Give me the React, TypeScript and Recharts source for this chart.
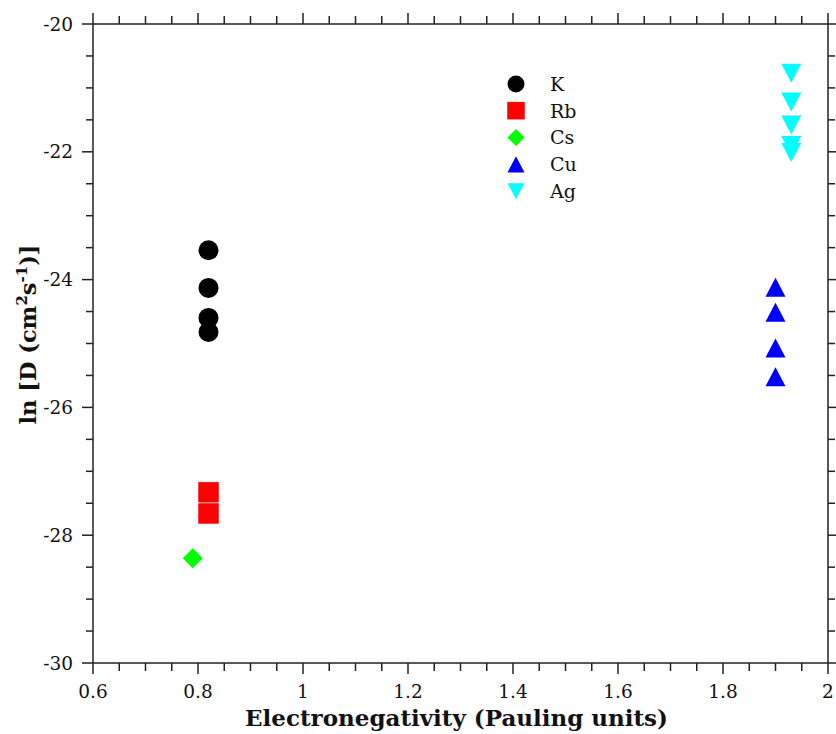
import { ScatterChart, Scatter, XAxis, YAxis, Legend } from 'recharts'

const kX = [0.82, 0.82, 0.82, 0.82]
const kY = [-23.54, -24.13, -24.6, -24.82]
const rbX = [0.82, 0.82]
const rbY = [-27.33, -27.66]
const csX = [0.79]
const csY = [-28.36]
const cuX = [1.9, 1.9, 1.9, 1.9]
const cuY = [-24.12, -24.51, -25.07, -25.52]
const agX = [1.93, 1.93, 1.93, 1.93, 1.93]
const agY = [-20.77, -21.22, -21.58, -21.9, -22.01]

const xMajor = [0.6, 0.8, 1, 1.2, 1.4, 1.6, 1.8, 2]
const xMinor = [
  0.65, 0.7, 0.75, 0.85, 0.9, 0.95, 1.05, 1.1, 1.15, 1.25, 1.3, 1.35,
  1.45, 1.5, 1.55, 1.65, 1.7, 1.75, 1.85, 1.9, 1.95,
]
const yMajor = [-30, -28, -26, -24, -22, -20]
const yMinor = [
  -29.5, -29, -28.5, -27.5, -27, -26.5, -25.5, -25, -24.5, -23.5, -23, -22.5,
  -21.5, -21, -20.5,
]

const FONT = '"DejaVu Serif", serif'
const AXIS = '#222222'

const toPts = (xs: number[], ys: number[]) => ys.map((y, i) => ({ x: xs[i], y }))

const series = [
  { name: 'K', color: '#000000', shape: 'circle', data: toPts(kX, kY) },
  { name: 'Rb', color: '#ff0000', shape: 'square', data: toPts(rbX, rbY) },
  { name: 'Cs', color: '#00ff00', shape: 'diamond', data: toPts(csX, csY) },
  { name: 'Cu', color: '#0000ff', shape: 'up', data: toPts(cuX, cuY) },
  { name: 'Ag', color: '#00ffff', shape: 'down', data: toPts(agX, agY) },
]

function Marker({ kind, cx, cy, r, color }: { kind: string; cx: number; cy: number; r: number; color: string }) {
  if (kind === 'circle') return <circle cx={cx} cy={cy} r={r} fill={color} />
  if (kind === 'square') return <rect x={cx - r} y={cy - r} width={2 * r} height={2 * r} fill={color} stroke="#ffffff" strokeWidth={0.5} />
  if (kind === 'diamond') {
    return <polygon points={`${cx},${cy - r} ${cx + r},${cy} ${cx},${cy + r} ${cx - r},${cy}`} fill={color} />
  }
  const h = r * 0.95
  if (kind === 'up') {
    return <polygon points={`${cx},${cy - h} ${cx + r},${cy + h} ${cx - r},${cy + h}`} fill={color} />
  }
  return <polygon points={`${cx - r},${cy - h} ${cx + r},${cy - h} ${cx},${cy + h}`} fill={color} />
}

const isXMajor = (v: number) => xMajor.some(m => Math.abs(m - v) < 1e-6)
const isYMajor = (v: number) => yMajor.some(m => Math.abs(m - v) < 1e-6)

function BottomTick(props: any) {
  const { x, y, payload } = props
  const major = isXMajor(payload.value)
  return (
    <g>
      <line x1={x} y1={y} x2={x} y2={y + (major ? 11 : 8)} stroke={AXIS} strokeWidth={1.5} />
      {major && (
        <text x={x} y={y + 35} textAnchor="middle" fontFamily={FONT} fontSize={18.5} fill="#111">
          {String(payload.value)}
        </text>
      )}
    </g>
  )
}

function TopTick(props: any) {
  const { x, y, payload } = props
  const major = isXMajor(payload.value)
  return <line x1={x} y1={y} x2={x} y2={y - (major ? 11 : 8)} stroke={AXIS} strokeWidth={1.5} />
}

function LeftTick(props: any) {
  const { x, y, payload } = props
  const major = isYMajor(payload.value)
  return (
    <g>
      <line x1={x} y1={y} x2={x - (major ? 11 : 7)} y2={y} stroke={AXIS} strokeWidth={1.5} />
      {major && (
        <text x={x - 20} y={y} dy="0.36em" textAnchor="end" fontFamily={FONT} fontSize={18.5} fill="#111">
          {String(payload.value)}
        </text>
      )}
    </g>
  )
}

function RightTick(props: any) {
  const { x, y, payload } = props
  const major = isYMajor(payload.value)
  return <line x1={x} y1={y} x2={x + (major ? 11 : 7)} y2={y} stroke={AXIS} strokeWidth={1.5} />
}

function LegendBox() {
  return (
    <svg width={130} height={150}>
      {series.map((s, i) => (
        <g key={s.name}>
          <Marker kind={s.shape} cx={16} cy={14 + i * 26.8} r={s.shape === 'square' ? 9 : 8.5} color={s.color} />
          <text x={50} y={14 + i * 26.8} dy="0.36em" fontFamily={FONT} fontSize={19} fill="#111">
            {s.name}
          </text>
        </g>
      ))}
    </svg>
  )
}

export default function App() {
  return (
    <div style={{ position: 'absolute', left: 0, top: 0, width: 836, height: 734, background: '#fff' }}>
      <ScatterChart width={836} height={734} margin={{ top: 0, right: 0, bottom: 0, left: 0 }}>
        <XAxis
          xAxisId="b"
          type="number"
          dataKey="x"
          orientation="bottom"
          domain={[0.6, 2]}
          allowDataOverflow
          ticks={[...xMajor, ...xMinor]}
          interval={0}
          height={71}
          tickSize={0}
          tickMargin={0}
          tickLine={false}
          axisLine={{ stroke: AXIS, strokeWidth: 1.5 }}
          tick={<BottomTick />}
          label={({ viewBox }: any) => (
            <text
              x={viewBox.x + viewBox.width / 2 - 4}
              y={726}
              textAnchor="middle"
              fontFamily={FONT}
              fontSize={23}
              fontWeight="bold"
              fill="#111"
            >
              Electronegativity (Pauling units)
            </text>
          )}
        />
        <XAxis
          xAxisId="t"
          type="number"
          dataKey="x"
          orientation="top"
          domain={[0.6, 2]}
          allowDataOverflow
          ticks={[...xMajor, ...xMinor]}
          interval={0}
          height={24}
          tickSize={0}
          tickMargin={0}
          tickLine={false}
          axisLine={{ stroke: AXIS, strokeWidth: 1.5 }}
          tick={<TopTick />}
        />
        <YAxis
          yAxisId="l"
          type="number"
          dataKey="y"
          orientation="left"
          domain={[-30, -20]}
          allowDataOverflow
          ticks={[...yMajor, ...yMinor]}
          interval={0}
          width={93}
          tickSize={0}
          tickMargin={0}
          tickLine={false}
          axisLine={{ stroke: AXIS, strokeWidth: 1.5 }}
          tick={<LeftTick />}
          label={({ viewBox }: any) => {
            const cx = 28
            const cy = viewBox.y + viewBox.height / 2 - 9
            return (
              <text
                x={cx}
                y={cy}
                transform={`rotate(-90 ${cx} ${cy})`}
                textAnchor="middle"
                fontFamily={FONT}
                fontSize={22.5}
                fontWeight="bold"
                fill="#111"
                dy="0.36em"
              >
                <tspan>ln [D (cm</tspan>
                <tspan fontSize={15} dy={-9}>2</tspan>
                <tspan dy={9}>s</tspan>
                <tspan fontSize={15} dy={-9}>-1</tspan>
                <tspan dy={9}>)]</tspan>
              </text>
            )
          }}
        />
        <YAxis
          yAxisId="r"
          type="number"
          dataKey="y"
          orientation="right"
          domain={[-30, -20]}
          allowDataOverflow
          ticks={[...yMajor, ...yMinor]}
          interval={0}
          width={8}
          tickSize={0}
          tickMargin={0}
          tickLine={false}
          axisLine={{ stroke: AXIS, strokeWidth: 1.5 }}
          tick={<RightTick />}
        />
        <Legend
          layout="vertical"
          align="center"
          verticalAlign="middle"
          content={<LegendBox />}
          wrapperStyle={{ left: 500, top: 70, width: 130, height: 150 }}
        />
        {series.map(s => (
          <Scatter
            key={s.name}
            name={s.name}
            data={s.data}
            xAxisId="b"
            yAxisId="l"
            fill={s.color}
            isAnimationActive={false}
            shape={(p: any) => (
              <Marker kind={s.shape} cx={p.cx} cy={p.cy} r={s.shape === 'square' ? 10.5 : 10} color={s.color} />
            )}
          />
        ))}
      </ScatterChart>
    </div>
  )
}
